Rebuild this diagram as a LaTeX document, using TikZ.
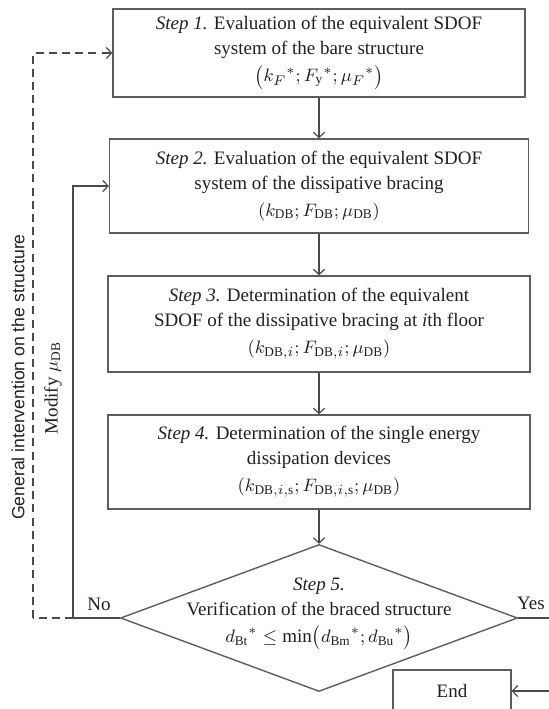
\documentclass[tikz,border=0pt]{standalone}
\usepackage{fontspec}
\setmainfont{Liberation Serif}
\setsansfont{Liberation Sans}
\setmathrm{Liberation Serif}
\usetikzlibrary{arrows.meta,shapes.geometric}

\definecolor{inkcol}{HTML}{231F20}
\definecolor{linecol}{HTML}{4A4A4A}
\definecolor{boxcol}{HTML}{5E5E5E}

\begin{document}
\begin{tikzpicture}[x=0.5pt,y=-0.5pt,
  every node/.style={text=inkcol},
  txt/.style={font=\fontsize{9.5}{12.5}\selectfont},
  stepbox/.style={draw=boxcol, line width=0.7pt, inner sep=0pt, align=center,
    txt},
  decision/.style={diamond, draw=boxcol, line width=0.7pt, inner sep=0pt,
    minimum width=198.5pt, minimum height=73.5pt},
  endbox/.style={draw=boxcol, line width=0.7pt, inner sep=0pt,
    minimum width=59pt, minimum height=21pt, txt},
  flow/.style={draw=linecol, line width=0.6pt},
  arr/.style={-{Straight Barb[length=2.6pt,width=5.6pt,line width=0.6pt]}},
  loopdash/.style={dash pattern=on 4pt off 2.6pt},
  sidelabel/.style={rotate=90, inner sep=0pt},
]
\useasboundingbox (0,0) rectangle (549,709);

% process steps
\node[stepbox, minimum width=206pt, minimum height=44pt] (s1) at (319,53)
  {\textit{Step 1.} Evaluation of the equivalent SDOF\\
   system of the bare structure\\[1pt]
   $\bigl({k_F}^{*}; {F_{\mathrm{y}}}^{*}; {\mu_F}^{*}\bigr)$};
\node[stepbox, minimum width=209.5pt, minimum height=47pt] (s2) at (319,186)
  {\textit{Step 2.} Evaluation of the equivalent SDOF\\
   system of the dissipative bracing\\[1pt]
   $(k_{\mathrm{DB}}; F_{\mathrm{DB}}; \mu_{\mathrm{DB}})$};
\node[stepbox, minimum width=211pt, minimum height=48pt] (s3) at (319,324)
  {\textit{Step 3.} Determination of the equivalent\\
   SDOF of the dissipative bracing at \textit{i}th floor\\[1pt]
   $(k_{\mathrm{DB},i}; F_{\mathrm{DB},i}; \mu_{\mathrm{DB}})$};
\node[stepbox, minimum width=211pt, minimum height=47pt] (s4) at (319,462)
  {\textit{Step 4.} Determination of the single energy\\
   dissipation devices\\[1pt]
   $(k_{\mathrm{DB},i,\mathrm{s}}; F_{\mathrm{DB},i,\mathrm{s}}; \mu_{\mathrm{DB}})$};

% verification
\node[decision] (s5) at (319,618) {};
\node[txt, align=center, inner sep=0pt] (s5text) at (319,614)
  {\textit{Step 5.}\\
   Verification of the braced structure\\[1pt]
   ${d_{\mathrm{Bt}}}^{*} \le \min\bigl({d_{\mathrm{Bm}}}^{*}; {d_{\mathrm{Bu}}}^{*}\bigr)$};

\node[endbox] (fin) at (452,691) {End};

% main sequence
\draw[flow,arr] (s1) -- (s2);
\draw[flow,arr] (s2) -- (s3);
\draw[flow,arr] (s3) -- (s4);
\draw[flow,arr] (s4) -- (s5);

% feedback loops
\coordinate (noturn) at (73,618);
\coordinate (dashturn) at (33,618);
\draw[flow] (s5.west) -- (noturn);
\draw[flow,arr] (noturn) |- (s2.west);
\draw[flow,loopdash] (noturn) -- (dashturn);
\draw[flow,loopdash,arr] (dashturn) |- (s1.west);

% exit
\coordinate (yesturn) at (562,618);
\draw[flow,arr] (s5.east) -- (yesturn) |- (fin.east);

% labels
\node[txt] (nolab) at (99,604) {No};
\node[txt] (yeslab) at (531,603) {Yes};
\node[sidelabel, font=\sffamily\fontsize{8.8}{10}\selectfont] (genlab) at (18,377)
  {General intervention on the structure};
\node[sidelabel, txt] (modlab) at (53,388) {Modify $\mu_{\mathrm{DB}}$};
\end{tikzpicture}
\end{document}
